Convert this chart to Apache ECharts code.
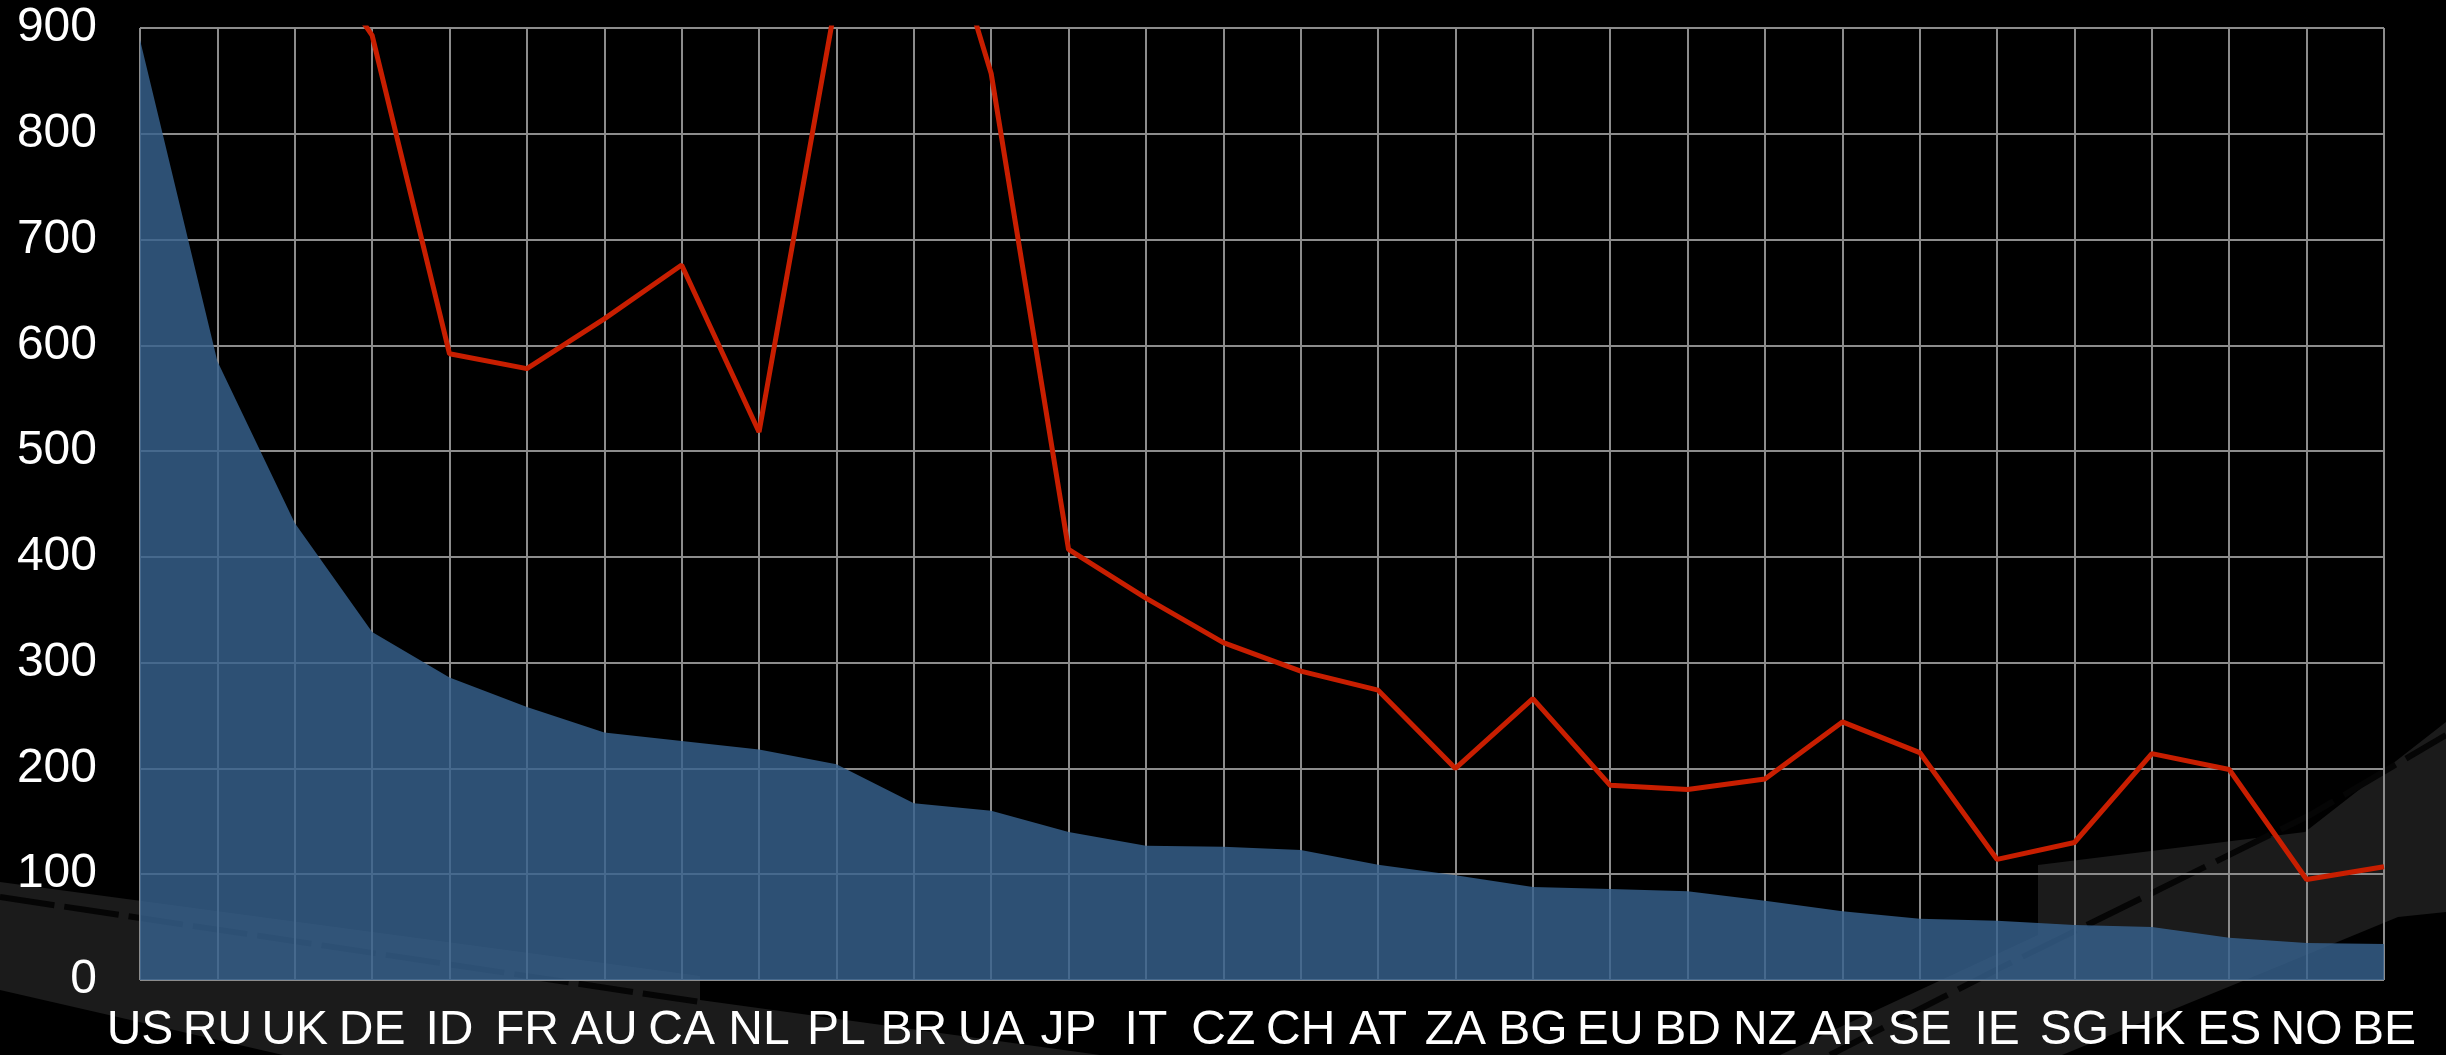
<!DOCTYPE html>
<html>
<head>
<meta charset="utf-8">
<script src="https://cdn.jsdelivr.net/npm/echarts@6/dist/echarts.min.js"></script>
<style>
    html, body {margin: 0; padding: 0; background: #000;}
    #chart {width: 2446px; height: 1055px;}
</style>
</head>
<body>
<div id="chart"></div>
<script>
    const countries = ['US', 'RU', 'UK', 'DE', 'ID', 'FR', 'AU', 'CA', 'NL', 'PL', 'BR', 'UA', 'JP', 'IT', 'CZ',
        'CH', 'AT', 'ZA', 'BG', 'EU', 'BD', 'NZ', 'AR', 'SE', 'IE', 'SG', 'HK', 'ES', 'NO', 'BE']
    const areaValues = [889, 585, 432, 329, 286, 258, 234, 226, 218, 204, 167, 160, 140, 127, 126,
        123, 109, 99, 88, 86, 84, 75, 65, 58, 56, 52, 50, 40, 35, 34]
    // red line runs off the top for the first countries and PL/BR
    const lineValues = [1700, 1250, 1000, 893, 592, 578, 625, 676, 518, 928, 1098, 857, 407, 361, 319,
        292, 274, 200, 266, 184, 180, 190, 244, 215, 114, 130, 214, 199, 95, 107]
    const yTicks = [0, 900, 100]

    const roadGray = '#1b1b1b'
    let labelFont = {color: '#fff', fontSize: 48, fontFamily: '"Liberation Sans", Arial, sans-serif'}

    let chart = echarts.init(document.getElementById('chart'))
    chart.setOption({
        backgroundColor: '#000',
        animation: false,
        graphic: {
            elements: [
                {type: 'polygon', z: -100, silent: true,
                    shape: {points: [[0, 882], [700, 976], [700, 1055], [283, 1055], [0, 990]]},
                    style: {fill: roadGray}},
                {type: 'polygon', z: -100, silent: true,
                    shape: {points: [[700, 1000], [1100, 1055], [700, 1055]]},
                    style: {fill: roadGray}},
                {type: 'polygon', z: -100, silent: true,
                    shape: {points: [[1780, 1055], [2038, 935], [2038, 865], [2240, 840], [2305, 832], [2446, 722],
                        [2446, 912], [2398, 917], [2238, 983], [2062, 1055]]},
                    style: {fill: roadGray}},
                {type: 'polyline', z: -99, silent: true,
                    shape: {points: [[0, 897], [700, 1002]]},
                    style: {stroke: '#050505', lineWidth: 6, lineDash: [55, 10], fill: null}},
                {type: 'polyline', z: -99, silent: true,
                    shape: {points: [[1830, 1055], [2000, 968], [2310, 815], [2446, 735]]},
                    style: {stroke: '#050505', lineWidth: 6, lineDash: [60, 12], fill: null}}
            ]
        },
        grid: {left: 140, right: 62, top: 28, bottom: 75},
        xAxis: {
            type: 'category',
            data: countries,
            boundaryGap: false,
            axisLine: {show: false},
            axisTick: {show: false},
            axisLabel: Object.assign({interval: 0, margin: 27, hideOverlap: false}, labelFont),
            splitLine: {show: true, lineStyle: {color: '#8c8c8c', width: 2}}
        },
        yAxis: {
            type: 'value',
            min: yTicks[0],
            max: yTicks[1],
            interval: yTicks[2],
            axisLine: {show: false},
            axisTick: {show: false},
            axisLabel: Object.assign({margin: 43}, labelFont),
            splitLine: {show: true, lineStyle: {color: '#8c8c8c', width: 2}}
        },
        series: [
            {
                name: 'area',
                type: 'line',
                data: areaValues,
                showSymbol: false,
                lineStyle: {width: 0},
                areaStyle: {color: 'rgba(55, 98, 141, 0.82)', opacity: 1}
            },
            {
                name: 'line',
                type: 'line',
                data: lineValues,
                showSymbol: false,
                clip: true,
                lineStyle: {color: '#c81e00', width: 5}
            }
        ]
    })
</script>
</body>
</html>
